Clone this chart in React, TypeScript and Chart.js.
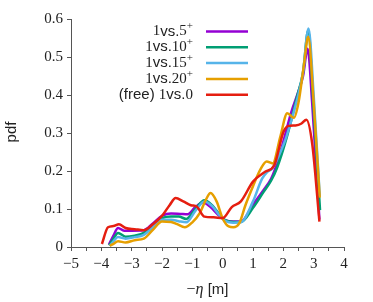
import React, { useEffect, useRef } from "react";
import { Chart, registerables } from "chart.js";

Chart.register(...registerables);

// ---- data ----
const seriesLabels = ["1vs.5+", "1vs.10+", "1vs.15+", "1vs.20+", "(free) 1vs.0"];
const seriesColors = ["#9400d3", "#009e73", "#56b4e9", "#e69f00", "#e51e10"];

const x5 = [-3.75, -3.6, -3.45, -3.25, -3.0, -2.6, -2.3, -2.0, -1.7, -1.4, -1.15, -0.9, -0.65, -0.4, -0.15, 0.1, 0.35, 0.6, 1.0, 1.35, 1.6, 1.8, 2.05, 2.25, 2.5, 2.65, 2.8, 2.95, 3.19];
const y5 = [0.006, 0.03, 0.05, 0.043, 0.043, 0.044, 0.062, 0.082, 0.088, 0.087, 0.086, 0.105, 0.117, 0.105, 0.085, 0.07, 0.067, 0.067, 0.112, 0.15, 0.18, 0.222, 0.292, 0.352, 0.41, 0.45, 0.522, 0.38, 0.072];

const x10 = [-3.74, -3.6, -3.45, -3.2, -2.9, -2.6, -2.3, -2.0, -1.7, -1.45, -1.2, -0.9, -0.6, -0.35, -0.1, 0.1, 0.35, 0.6, 1.0, 1.35, 1.6, 1.8, 2.1, 2.45, 2.65, 2.82, 3.0, 3.21];
const y10 = [0.004, 0.022, 0.037, 0.027, 0.03, 0.037, 0.058, 0.076, 0.08, 0.08, 0.074, 0.1, 0.123, 0.11, 0.085, 0.07, 0.066, 0.066, 0.103, 0.145, 0.175, 0.21, 0.285, 0.395, 0.46, 0.57, 0.36, 0.097];

const x15 = [-3.72, -3.6, -3.45, -3.2, -2.9, -2.6, -2.3, -2.0, -1.7, -1.45, -1.2, -0.9, -0.6, -0.35, -0.1, 0.1, 0.35, 0.6, 1.0, 1.3, 1.45, 1.65, 1.85, 2.1, 2.45, 2.65, 2.83, 3.0, 3.2];
const y15 = [0.003, 0.015, 0.026, 0.022, 0.026, 0.032, 0.052, 0.072, 0.072, 0.068, 0.065, 0.095, 0.12, 0.108, 0.083, 0.068, 0.064, 0.065, 0.12, 0.18, 0.196, 0.208, 0.24, 0.29, 0.387, 0.46, 0.575, 0.4, 0.134];

const x20 = [-3.72, -3.6, -3.45, -3.2, -2.9, -2.6, -2.3, -2.0, -1.7, -1.5, -1.25, -1.0, -0.75, -0.55, -0.4, -0.2, 0, 0.2, 0.35, 0.55, 0.75, 1.0, 1.25, 1.45, 1.65, 1.9, 2.13, 2.35, 2.5, 2.68, 2.82, 3.0, 3.2];
const y20 = [0.003, 0.008, 0.015, 0.012, 0.018, 0.022, 0.045, 0.067, 0.066, 0.06, 0.052, 0.065, 0.09, 0.125, 0.142, 0.12, 0.075, 0.054, 0.052, 0.063, 0.11, 0.16, 0.205, 0.225, 0.22, 0.29, 0.352, 0.34, 0.38, 0.48, 0.553, 0.38, 0.13];

const x0 = [-3.98, -3.78, -3.6, -3.42, -3.2, -2.9, -2.6, -2.3, -2.0, -1.75, -1.55, -1.3, -1.05, -0.85, -0.6, -0.3, 0, 0.3, 0.6, 1.0, 1.4, 1.7, 2.0, 2.15, 2.4, 2.6, 2.76, 2.95, 3.19];
const y0 = [0.008, 0.052, 0.055, 0.06, 0.05, 0.047, 0.044, 0.06, 0.082, 0.11, 0.129, 0.12, 0.11, 0.106, 0.08, 0.078, 0.076, 0.105, 0.12, 0.172, 0.198, 0.215, 0.302, 0.318, 0.32, 0.325, 0.335, 0.273, 0.067];

const seriesX = [x5, x10, x15, x20, x0];
const seriesY = [y5, y10, y15, y20, y0];

const xMin = -5;
const xMax = 4;
const yMin = 0;
const yMax = 0.6;

const SERIF = "'Liberation Serif', 'DejaVu Serif', serif";
const SANS = "'Liberation Sans', 'DejaVu Sans', sans-serif";
const TEXT = "#222";

type Seg = { t: string; f: string; sup?: boolean };

function labelSegs(label: string): Seg[] {
  if (label.startsWith("(free)")) {
    return [
      { t: "(free) ", f: `15px ${SANS}` },
      { t: "1", f: `15px ${SERIF}` },
      { t: "vs.", f: `15px ${SANS}` },
      { t: "0", f: `15px ${SERIF}` },
    ];
  }
  const num = label.replace("1vs.", "").replace("+", "");
  return [
    { t: "1", f: `15px ${SERIF}` },
    { t: "vs.", f: `15px ${SANS}` },
    { t: num, f: `15px ${SERIF}` },
    { t: "+", f: `11px ${SERIF}`, sup: true },
  ];
}

function drawSegs(ctx: CanvasRenderingContext2D, segs: Seg[], xStart: number, y: number) {
  let x = xStart;
  for (const s of segs) {
    ctx.font = s.f;
    ctx.fillText(s.t, x, s.sup ? y - 5 : y);
    x += ctx.measureText(s.t).width;
  }
}

function segsWidth(ctx: CanvasRenderingContext2D, segs: Seg[]) {
  let w = 0;
  for (const s of segs) {
    ctx.font = s.f;
    w += ctx.measureText(s.t).width;
  }
  return w;
}

const overlayPlugin = {
  id: "overlay",
  afterDraw(chart: any) {
    const ctx: CanvasRenderingContext2D = chart.ctx;
    ctx.save();
    ctx.fillStyle = TEXT;
    ctx.textBaseline = "middle";
    // legend
    const textRight = 193;
    const lineX0 = 206;
    const lineX1 = 248;
    const rowY0 = 31.5;
    const rowH = 15.8;
    seriesLabels.forEach((lab, i) => {
      const y = rowY0 + i * rowH;
      const segs = labelSegs(lab);
      const w = segsWidth(ctx, segs);
      ctx.fillStyle = TEXT;
      drawSegs(ctx, segs, textRight - w, y);
      ctx.strokeStyle = seriesColors[i];
      ctx.lineWidth = 2.5;
      ctx.beginPath();
      ctx.moveTo(lineX0, y);
      ctx.lineTo(lineX1, y);
      ctx.stroke();
    });
    // x title
    const xt: Seg[] = [
      { t: "\u2212", f: `16px ${SERIF}` },
      { t: "\u03b7", f: `italic 16px ${SERIF}` },
      { t: " [m]", f: `15px ${SANS}` },
    ];
    ctx.fillStyle = TEXT;
    const wx = segsWidth(ctx, xt);
    const area = chart.chartArea;
    drawSegs(ctx, xt, (area.left + area.right) / 2 - wx / 2, 290);
    // y title
    ctx.translate(12, 132);
    ctx.rotate(-Math.PI / 2);
    ctx.textAlign = "center";
    ctx.font = `15px ${SANS}`;
    ctx.fillText("pdf", 0, 0);
    ctx.restore();
  },
};

function fmtX(v: number) {
  if (!Number.isInteger(v)) return "";
  return v < 0 ? "\u2212" + Math.abs(v) : String(v);
}

function fmtY(v: number) {
  const r = Math.round(v * 10) / 10;
  return r === 0 ? "0" : r.toFixed(1);
}

export default function App() {
  const ref = useRef<HTMLCanvasElement>(null);
  useEffect(() => {
    document.body.style.margin = "0";
    const datasets = seriesLabels.map((lab, i) => ({
      label: lab,
      data: seriesX[i].map((x, j) => ({ x, y: seriesY[i][j] })),
      borderColor: seriesColors[i],
      backgroundColor: seriesColors[i],
      borderWidth: 2.5,
      pointRadius: 0,
      cubicInterpolationMode: "monotone" as const,
      fill: false,
      order: seriesLabels.length - i,
    }));
    const chart = new Chart(ref.current!, {
      type: "line",
      data: { datasets },
      options: {
        responsive: false,
        animation: false,
        layout: { padding: { top: 19, right: 29, left: 0, bottom: 0 } },
        plugins: { legend: { display: false }, tooltip: { enabled: false } },
        scales: {
          x: {
            type: "linear",
            min: xMin,
            max: xMax,
            afterFit: (s: any) => {
              s.height = 55;
            },
            ticks: {
              stepSize: 0.5,
              autoSkip: false,
              maxRotation: 0,
              padding: 4,
              color: TEXT,
              font: { family: SERIF, size: 15 },
              callback: (v: any) => fmtX(Number(v)),
            },
            grid: { drawOnChartArea: false, drawTicks: true, tickLength: 4, color: "#555" },
            border: { display: true, color: "#555", width: 1 },
          },
          y: {
            type: "linear",
            min: yMin,
            max: yMax,
            afterFit: (s: any) => {
              s.width = 71;
            },
            ticks: {
              stepSize: 0.1,
              padding: 4,
              color: TEXT,
              font: { family: SERIF, size: 15 },
              callback: (v: any) => fmtY(Number(v)),
            },
            grid: { drawOnChartArea: false, drawTicks: true, tickLength: 4, color: "#555" },
            border: { display: true, color: "#555", width: 1 },
          },
        },
      },
      plugins: [overlayPlugin],
    });
    return () => chart.destroy();
  }, []);
  return (
    <div style={{ width: 373, height: 302 }}>
      <canvas ref={ref} width={373} height={302} style={{ display: "block" }} />
    </div>
  );
}
